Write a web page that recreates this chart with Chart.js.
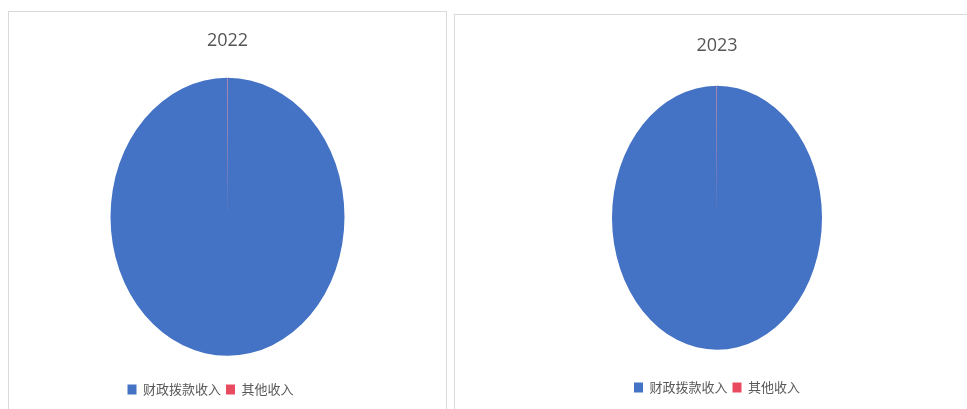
<!DOCTYPE html>
<html>
<head>
<meta charset="utf-8">
<script src="https://cdn.jsdelivr.net/npm/chart.js@4/dist/chart.umd.min.js"></script>
<style>
  html, body { margin: 0; padding: 0; background: #ffffff; width: 967px; height: 409px; overflow: hidden; }
  .panel { position: absolute; box-sizing: border-box; border: 1px solid #d9d9d9; background: #fff; }
  #p1 { left: 8px; top: 11px; width: 439px; height: 410px; }
  #p2 { left: 454px; top: 14px; width: 526px; height: 410px; }
  .box { position: absolute; left: 0; top: 0; }
  #b1 { width: 437px; height: 397px; }
  #b2 { width: 524px; height: 394px; }
</style>
</head>
<body>
<div class="panel" id="p1"><div class="box" id="b1"><canvas id="c1"></canvas></div></div>
<div class="panel" id="p2"><div class="box" id="b2"><canvas id="c2"></canvas></div></div>
<script>
const categories = ['财政拨款收入', '其他收入'];
const titles = ['2022', '2023'];
const values2022 = [99.95, 0.05];
const values2023 = [99.95, 0.05];
const colors = ['#4472C4', '#E84A5F'];

// draws the pie as an ellipse (vertical stretch) like the reference
const ellipsePlugin = {
  id: 'ellipse',
  beforeDatasetsDraw(chart, args, opts) {
    const arc = chart.getDatasetMeta(0).data[0];
    if (!arc) return;
    const ctx = chart.ctx;
    ctx.save();
    ctx.translate(arc.x, arc.y);
    ctx.scale(1, opts.sy || 1);
    ctx.translate(-arc.x, -arc.y);
  },
  afterDatasetsDraw(chart) {
    chart.ctx.restore();
  }
};
const legendShift = {
  id: 'legendShift',
  afterLayout(chart, args, opts) {
    const dx = opts.dx || 0;
    if (dx && chart.legend) { chart.legend.left += dx; chart.legend.right += dx; }
  }
};

function makeChart(id, title, values, cfg) {
  return new Chart(document.getElementById(id), {
    type: 'pie',
    data: {
      labels: categories,
      datasets: [{ data: values, backgroundColor: colors, borderWidth: 0 }]
    },
    plugins: [ellipsePlugin, legendShift],
    options: {
      responsive: true,
      maintainAspectRatio: false,
      animation: false,
      devicePixelRatio: 1,
      radius: cfg.radius,
      layout: { padding: { top: 0, bottom: cfg.padBottom, left: 0, right: 0 } },
      plugins: {
        ellipse: { sy: cfg.sy },
        legendShift: { dx: cfg.legendDx },
        tooltip: { enabled: false },
        title: {
          display: true,
          text: title,
          color: '#555555',
          font: { family: '"Open Sans", sans-serif', size: 18, weight: 'normal' },
          padding: { top: cfg.titleTop, bottom: cfg.titleBottom }
        },
        legend: {
          display: true,
          position: 'bottom',
          labels: {
            boxWidth: 9,
            boxHeight: 10,
            padding: 5,
            color: '#595959',
            font: { family: '"Noto Sans CJK SC", sans-serif', size: 13 }
          }
        }
      }
    }
  });
}

makeChart('c1', titles[0], values2022, { radius: 117, sy: 139 / 117, padBottom: 3, titleTop: 18, titleBottom: 4, legendDx: -17 });
makeChart('c2', titles[1], values2023, { radius: 105, sy: 132 / 105, padBottom: 5, titleTop: 20, titleBottom: 3, legendDx: 0 });
</script>
</body>
</html>
